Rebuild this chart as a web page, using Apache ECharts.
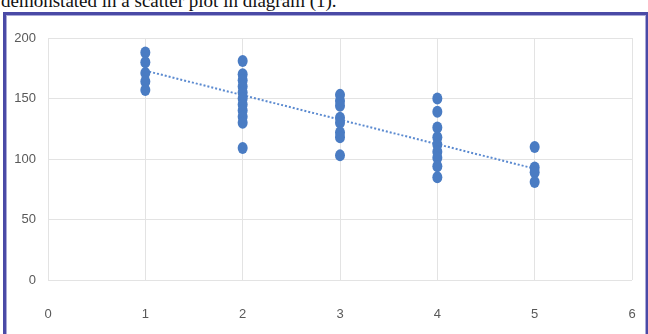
<!DOCTYPE html>
<html>
<head>
<meta charset="utf-8">
<script src="https://cdn.jsdelivr.net/npm/echarts@6/dist/echarts.min.js"></script>
<style>
html,body{margin:0;padding:0;width:648px;height:334px;overflow:hidden;background:#fff;}
#caption{position:absolute;left:1px;top:-10px;font-family:"Liberation Serif","DejaVu Serif",serif;font-size:19px;color:#111;white-space:nowrap;}
#frame{position:absolute;left:3px;top:12px;width:640px;height:330px;border-top:3px solid #4a4aa6;border-left:3px solid #4a4aa6;border-right:3px solid #4a4aa6;box-shadow:inset 1px 1px 0 #a9a9d8,inset -1px 0 0 #a9a9d8;}
#chart{position:absolute;left:0;top:0;width:648px;height:334px;}
</style>
</head>
<body>
<div id="caption">demonstated in a scatter plot in diagram (1).</div>
<div id="frame"></div>
<div id="chart"></div>
<script>
// Data
var xTicks = [0, 1, 2, 3, 4, 5, 6];
var yTicks = [0, 50, 100, 150, 200];
var group1 = [188, 180, 171, 164, 157];
var group2 = [181, 170, 165, 160, 155, 150, 145, 140, 135, 130, 109];
var group3 = [153, 148, 144, 134, 130, 122, 118, 103];
var group4 = [150, 139, 126, 118, 112, 106, 101, 94, 85];
var group5 = [110, 93, 89, 81];
var trendX = [1, 5];
var trendY = [173, 92];

var groups = [group1, group2, group3, group4, group5];
var points = [];
groups.forEach(function (g, i) {
  g.forEach(function (v) { points.push([i + 1, v]); });
});
var trend = trendX.map(function (x, i) { return [x, trendY[i]]; });

var chart = echarts.init(document.getElementById('chart'), null, {renderer: 'canvas'});
var labelFont = '"Liberation Sans Narrow","Liberation Sans",sans-serif';
chart.setOption({
  animation: false,
  grid: {left: 48, right: 16, top: 38, bottom: 54, containLabel: false},
  xAxis: {
    type: 'value', min: xTicks[0], max: xTicks[xTicks.length - 1], interval: 1,
    axisLine: {show: false}, axisTick: {show: false},
    axisLabel: {color: '#595959', fontSize: 13, fontFamily: labelFont, margin: 28},
    splitLine: {show: true, lineStyle: {color: '#e3e3e3', width: 1}}
  },
  yAxis: {
    type: 'value', min: yTicks[0], max: yTicks[yTicks.length - 1], interval: 50,
    axisLine: {show: false}, axisTick: {show: false},
    axisLabel: {color: '#595959', fontSize: 13, fontFamily: labelFont, margin: 12},
    splitLine: {show: true, lineStyle: {color: '#e3e3e3', width: 1}}
  },
  series: [
    {
      type: 'line', data: trend, symbol: 'none', z: 3,
      lineStyle: {color: '#5b8ad0', width: 2, type: [2, 2]}
    },
    {
      type: 'scatter', data: points, symbol: 'circle', symbolSize: [10, 12], z: 4,
      itemStyle: {color: '#4a7cc3', opacity: 1}
    }
  ]
});
</script>
</body>
</html>
